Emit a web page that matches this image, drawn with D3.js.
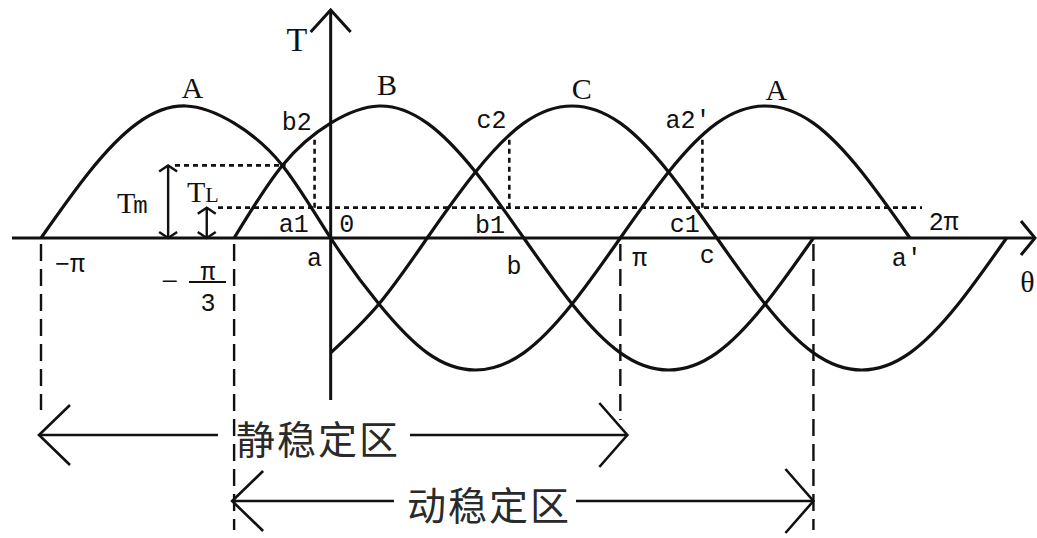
<!DOCTYPE html>
<html>
<head>
<meta charset="utf-8">
<script src="https://cdn.jsdelivr.net/npm/d3@7"></script>
<style>
  body { margin: 0; background: #fff; }
  svg { display: block; }
</style>
</head>
<body>
<div id="chart"></div>
<script>
// phase curves: angle θ in degrees, T in units of the peak value
const angA = [-180, -150, -120, -90, -60, -30, 0, 30, 60, 90, 120, 150, 180, 210, 240, 270, 300, 330, 360]
const valA = [0, 0.5, 0.87, 1, 0.87, 0.55, 0, -0.5, -0.87, -1, -0.87, -0.5, 0, 0.5, 0.87, 1, 0.87, 0.5, 0]
const angB = [-60, -30, 0, 30, 60, 90, 120, 150, 180, 210, 240, 270, 300]
const valB = [0, 0.55, 0.87, 1, 0.87, 0.5, 0, -0.5, -0.87, -1, -0.87, -0.5, 0]
const angC = [0, 30, 60, 90, 120, 150, 180, 210, 240, 270, 300, 330, 360, 390, 420]
const valC = [-0.87, -0.5, 0, 0.5, 0.87, 1, 0.87, 0.5, 0, -0.5, -0.87, -1, -0.87, -0.5, 0]

// torque levels
const Tm = 0.55
const TL = 0.23

// a1/b1/c1 drops up to b2/c2/a2'
const dropAng = [-10, 111, 231]
const dropTop = [0.77, 0.78, 0.78]

// zone boundaries  -π, -π/3, π, 5π/3
const boundAng = [-180, -60, 180, 300]
const zoneNames = ['静稳定区', '动稳定区']
const zoneFrom = [-180, -60]
const zoneTo = [180, 300]

// text labels (anchor in θ degrees / T units)
const bigNames = ['T', 'A', 'B', 'C', 'A', 'θ']
const bigAng = [-21, -86, 35, 156, 277, 433]
const bigVal = [1.42, 1.06, 1.08, 1.05, 1.045, -0.41]

const ptNames = ['b2', 'c2', 'a2′', 'a1', '0', 'b1', 'c1', 'a', 'b', 'c', 'a′', '2π', '−π', 'π']
const ptAng = [-21, 100, 222, -23, 10, 99, 220, -10, 114, 234, 358, 381, -162, 192]
const ptVal = [0.82, 0.83, 0.83, 0.045, 0.045, 0.04, 0.045, -0.21, -0.27, -0.19, -0.21, 0.06, -0.26, -0.21]

const width = 1037
const height = 538

const x = d3.scaleLinear().domain([-180, 360]).range([41, 910])
const y = d3.scaleLinear().domain([-1, 1]).range([370, 106])

const svg = d3.select('#chart')
    .append('svg')
    .attr('width', width)
    .attr('height', height)
    .style('background-color', '#fff')

const ink = '#111'

function chevH(g, tx, ty, dx, dy) {
    g.append('path')
        .attr('d', `M${tx + dx},${ty - dy}L${tx},${ty}L${tx + dx},${ty + dy}`)
}
function chevV(g, tx, ty, dx, dy) {
    g.append('path')
        .attr('d', `M${tx - dx},${ty + dy}L${tx},${ty}L${tx + dx},${ty + dy}`)
}

// dashed zone boundaries
const bottoms = [410, 530, 420, 530]
svg.append('g')
    .selectAll('line')
    .data(boundAng)
    .join('line')
    .attr('x1', d => x(d))
    .attr('x2', d => x(d))
    .attr('y1', y(0) + 6)
    .attr('y2', (d, i) => bottoms[i])
    .attr('stroke', ink)
    .attr('stroke-width', 2.4)
    .attr('stroke-dasharray', '17,8')

// dotted helper lines
const dots = svg.append('g')
    .attr('stroke', ink)
    .attr('stroke-width', 2.6)
    .attr('stroke-dasharray', '5,4')
dots.append('line')
    .attr('x1', 175).attr('x2', x(-28))
    .attr('y1', y(Tm)).attr('y2', y(Tm))
dots.append('line')
    .attr('x1', 218).attr('x2', 922)
    .attr('y1', y(TL)).attr('y2', y(TL))
dots.selectAll('line.drop')
    .data(dropAng)
    .join('line')
    .attr('class', 'drop')
    .attr('x1', d => x(d)).attr('x2', d => x(d))
    .attr('y1', y(TL))
    .attr('y2', (d, i) => y(dropTop[i]))

// axes
const axes = svg.append('g')
    .attr('stroke', ink)
    .attr('stroke-width', 3)
    .attr('fill', 'none')
axes.append('line')
    .attr('x1', 12).attr('x2', 1034)
    .attr('y1', y(0)).attr('y2', y(0))
axes.append('line')
    .attr('x1', x(0)).attr('x2', x(0))
    .attr('y1', 10).attr('y2', 400)
chevV(axes, x(0), 10, 20, 22)
chevH(axes, 1035, y(0), -14, 17)

// curves
const line = d3.line()
    .x(d => x(d[0]))
    .y(d => y(d[1]))
    .curve(d3.curveNatural)

const series = [
    d3.zip(angA, valA),
    d3.zip(angB, valB),
    d3.zip(angC, valC)
]
svg.append('g')
    .selectAll('path')
    .data(series)
    .join('path')
    .attr('d', line)
    .attr('fill', 'none')
    .attr('stroke', ink)
    .attr('stroke-width', 3.2)

// Tm / TL double arrows
const dim = svg.append('g')
    .attr('stroke', ink)
    .attr('stroke-width', 2.4)
    .attr('fill', 'none')
const dimX = [x(-101), x(-77)]
const dimTop = [Tm, TL]
dimX.forEach((px, i) => {
    dim.append('line')
        .attr('x1', px).attr('x2', px)
        .attr('y1', y(dimTop[i])).attr('y2', y(0))
    chevV(dim, px, y(dimTop[i]), 9, 6)
    chevV(dim, px, y(0), 9, -6)
})

// zone arrows
const zoneY = [435, 501]
const zoneTextX = [318, 489]
const gapHalf = [100, 95]
const zones = svg.append('g')
    .attr('stroke', ink)
    .attr('stroke-width', 2.6)
    .attr('fill', 'none')
zoneNames.forEach((name, i) => {
    const x0 = x(zoneFrom[i]) - 2
    const x1 = x(zoneTo[i]) + (i === 0 ? 7 : 0)
    zones.append('line')
        .attr('x1', x0).attr('x2', zoneTextX[i] - gapHalf[i])
        .attr('y1', zoneY[i]).attr('y2', zoneY[i])
    zones.append('line')
        .attr('x1', zoneTextX[i] + gapHalf[i] - 8).attr('x2', x1)
        .attr('y1', zoneY[i]).attr('y2', zoneY[i])
    chevH(zones, x0, zoneY[i], 31, 30)
    chevH(zones, x1, zoneY[i], -28, 32)
    svg.append('text')
        .attr('x', zoneTextX[i])
        .attr('y', zoneY[i] + 2)
        .attr('text-anchor', 'middle')
        .attr('dominant-baseline', 'central')
        .attr('font-family', '"Noto Sans CJK SC", sans-serif')
        .attr('font-size', 39)
        .attr('letter-spacing', 2)
        .attr('fill', '#2a2a2a')
        .text(name)
})

// big serif labels
svg.append('g')
    .selectAll('text')
    .data(bigNames)
    .join('text')
    .attr('x', (d, i) => x(bigAng[i]))
    .attr('y', (d, i) => y(bigVal[i]))
    .attr('text-anchor', 'middle')
    .attr('font-family', '"Liberation Serif", serif')
    .attr('font-size', (d, i) => i === 0 ? 34 : 30)
    .attr('fill', ink)
    .text(d => d)

// point labels
svg.append('g')
    .selectAll('text')
    .data(ptNames)
    .join('text')
    .attr('x', (d, i) => x(ptAng[i]))
    .attr('y', (d, i) => y(ptVal[i]))
    .attr('text-anchor', 'middle')
    .attr('font-family', '"Liberation Mono", monospace')
    .attr('font-size', 25)
    .attr('fill', ink)
    .text(d => d)

// -π/3 fraction
const frac = svg.append('g')
    .attr('font-family', '"Liberation Mono", monospace')
    .attr('font-size', 25)
    .attr('fill', ink)
    .attr('text-anchor', 'middle')
frac.append('text').attr('x', 170).attr('y', y(-0.333) + 9)
    .attr('font-family', '"Liberation Serif", serif').attr('font-size', 30).text('−')
frac.append('text').attr('x', 208).attr('y', y(-0.32)).text('π')
frac.append('text').attr('x', 208).attr('y', y(-0.55)).text('3')
frac.append('line')
    .attr('x1', 189).attr('x2', 226)
    .attr('y1', y(-0.333)).attr('y2', y(-0.333))
    .attr('stroke', ink).attr('stroke-width', 2)

// Tm, TL labels
const tm = svg.append('text')
    .attr('x', 117).attr('y', 213)
    .attr('font-family', '"Liberation Serif", serif')
    .attr('font-size', 30)
    .attr('fill', ink)
tm.append('tspan').text('T')
tm.append('tspan').attr('font-size', 24).attr('font-family', '"Liberation Mono", monospace').attr('dx', -2).text('m')

const tl = svg.append('text')
    .attr('x', 187).attr('y', 202)
    .attr('font-family', '"Liberation Serif", serif')
    .attr('font-size', 30)
    .attr('fill', ink)
tl.append('tspan').text('T')
tl.append('tspan').attr('font-size', 22).attr('dx', 0).text('L')
</script>
</body>
</html>
